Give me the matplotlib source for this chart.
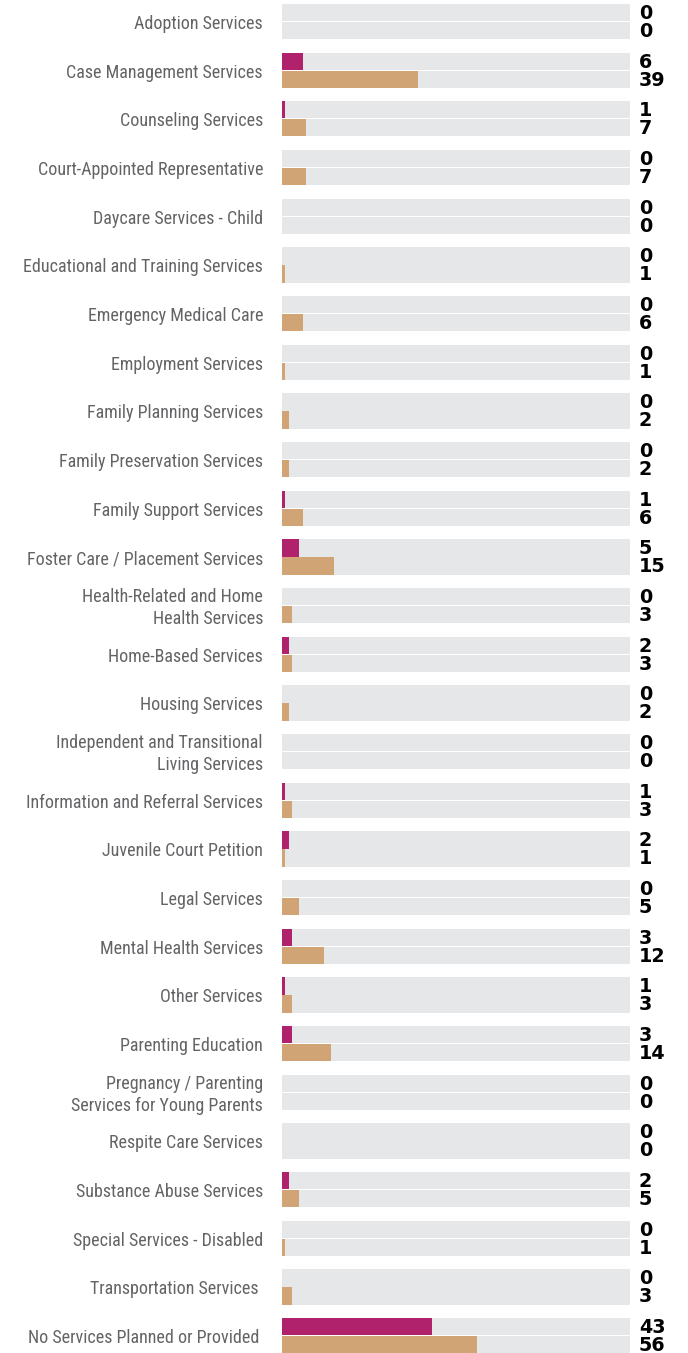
import matplotlib
matplotlib.use("Agg")
import matplotlib.pyplot as plt
from matplotlib import font_manager

categories = [
    "Adoption Services",
    "Case Management Services",
    "Counseling Services",
    "Court-Appointed Representative",
    "Daycare Services - Child",
    "Educational and Training Services",
    "Emergency Medical Care",
    "Employment Services",
    "Family Planning Services",
    "Family Preservation Services",
    "Family Support Services",
    "Foster Care / Placement Services",
    "Health-Related and Home\nHealth Services",
    "Home-Based Services",
    "Housing Services",
    "Independent and Transitional\nLiving Services",
    "Information and Referral Services",
    "Juvenile Court Petition",
    "Legal Services",
    "Mental Health Services",
    "Other Services",
    "Parenting Education",
    "Pregnancy / Parenting\nServices for Young Parents",
    "Respite Care Services",
    "Substance Abuse Services",
    "Special Services - Disabled",
    "Transportation Services ",
    "No Services Planned or Provided ",
]
series_a = [0, 6, 1, 0, 0, 0, 0, 0, 0, 0, 1, 5, 0, 2, 0, 0, 1, 2, 0, 3, 1, 3, 0, 0, 2, 0, 0, 43]
series_b = [0, 39, 7, 7, 0, 1, 6, 1, 2, 2, 6, 15, 3, 3, 2, 0, 3, 1, 5, 12, 3, 14, 0, 0, 5, 1, 3, 56]
max_value = 100

color_a = "#B0226B"
color_b = "#D1A476"
color_bg = "#E6E7E8"
label_color = "#646467"

avail = {f.name for f in font_manager.fontManager.ttflist}
label_font = "Roboto"
label_size = 11.8
for cand, sz in [("Roboto Condensed", 13.0), ("Liberation Sans Narrow", 13.0)]:
    if cand in avail:
        label_font, label_size = cand, sz
        break

W, H = 688, 1353
fig = plt.figure(figsize=(W / 100, H / 100), dpi=100)
x0, x1 = 282, 630
ax = fig.add_axes([x0 / W, 0, (x1 - x0) / W, 1])

pitch = 48.67
first_center = 21.5
ax.set_ylim((H - first_center) / pitch, -first_center / pitch)
ax.set_xlim(0, max_value)
ax.axis("off")

bh = 17.3 / pitch
off = 9.0 / pitch
px = max_value / (x1 - x0)

for i, cat in enumerate(categories):
    ya = i - off
    yb = i + off
    ax.barh([ya, yb], [max_value, max_value], height=bh, color=color_bg, linewidth=0)
    ax.barh(ya, series_a[i], height=bh, color=color_a, linewidth=0)
    ax.barh(yb, series_b[i], height=bh, color=color_b, linewidth=0)
    ax.text(max_value + 9 * px, ya + 1.0 / pitch, str(series_a[i]), ha="left", va="center",
            fontsize=13.8, fontweight="heavy", family="DejaVu Sans", color="black", clip_on=False)
    ax.text(max_value + 9 * px, yb + 1.0 / pitch, str(series_b[i]), ha="left", va="center",
            fontsize=13.8, fontweight="heavy", family="DejaVu Sans", color="black", clip_on=False)
    ax.text(-19 * px, i + 2.5 / pitch, cat, ha="right", va="center", fontsize=label_size,
            family=label_font, fontweight="normal", color=label_color, linespacing=1.25,
            clip_on=False)

fig.savefig("out.png", dpi=100)
